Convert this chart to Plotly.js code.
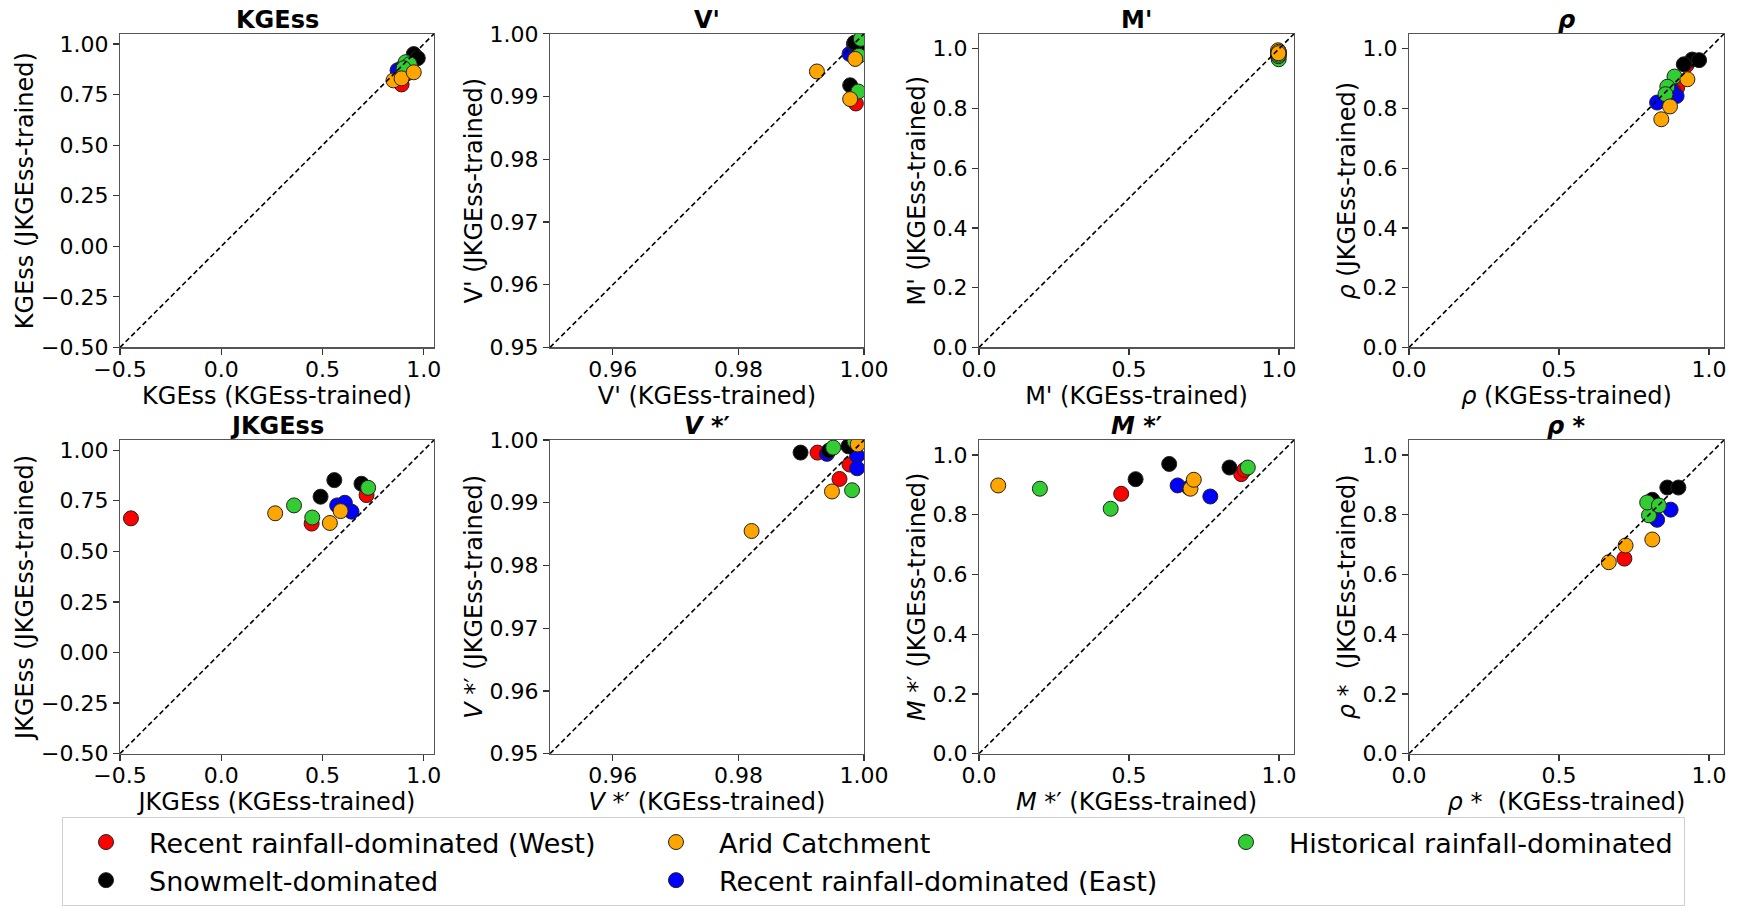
<!DOCTYPE html>
<html>
<head>
<meta charset="utf-8">
<script src="https://cdn.plot.ly/plotly-3.0.1.min.js"></script>
<style>
  html, body { margin: 0; padding: 0; background: #ffffff; }
  #chart { width: 1741px; height: 906px; }
</style>
</head>
<body>
<div id="chart"></div>
<script>
// Catchment groups (legend order) and their colours
const groupNames = [
  "Recent rainfall-dominated (West)",
  "Arid Catchment",
  "Historical rainfall-dominated",
  "Snowmelt-dominated",
  "Recent rainfall-dominated (East)"
];
const groupColors = ["#ff0000", "#ffa500", "#32cd32", "#000000", "#0000ff"];

// Group index of each of the 15 catchments
const catchmentGroup = [0, 0, 0, 1, 1, 1, 2, 2, 2, 3, 3, 3, 4, 4, 4];

// KGEss
const kgessKGEssTrained  = [0.89, 0.91, 0.93, 0.85, 0.89, 0.95, 0.91, 0.93, 0.90, 0.95, 0.97, 0.93, 0.87, 0.89, 0.92];
const kgessJKGEssTrained = [0.80, 0.85, 0.88, 0.82, 0.83, 0.86, 0.91, 0.90, 0.88, 0.95, 0.93, 0.89, 0.87, 0.88, 0.90];

// V'
const vKGEssTrained  = [0.9987, 0.9993, 0.9990, 0.9925, 0.9978, 0.9986, 0.9992, 0.9995, 0.9991, 0.9978, 0.9990, 0.9985, 0.9977, 0.9984, 0.9988];
const vJKGEssTrained = [0.9889, 0.9985, 0.9975, 0.9940, 0.9896, 0.9960, 0.9965, 0.9992, 0.9908, 0.9918, 0.9980, 0.9986, 0.9968, 0.9984, 0.9975];

// M'
const mKGEssTrained  = [0.998, 0.999, 0.997, 0.997, 0.999, 0.998, 0.999, 0.998, 0.999, 0.999, 0.998, 0.999, 0.998, 0.999, 0.997];
const mJKGEssTrained = [0.985, 0.990, 0.980, 0.995, 0.990, 0.985, 0.965, 0.975, 0.980, 0.980, 0.975, 0.990, 0.980, 0.985, 0.990];

// rho
const rhoKGEssTrained  = [0.894, 0.925, 0.880, 0.928, 0.870, 0.841, 0.885, 0.861, 0.855, 0.944, 0.967, 0.916, 0.892, 0.827, 0.875];
const rhoJKGEssTrained = [0.870, 0.945, 0.860, 0.898, 0.807, 0.764, 0.907, 0.873, 0.848, 0.964, 0.962, 0.948, 0.842, 0.820, 0.860];

// JKGEss
const jkgeKGEssTrained  = [-0.446, 0.446, 0.717, 0.266, 0.536, 0.589, 0.359, 0.449, 0.725, 0.490, 0.558, 0.692, 0.572, 0.610, 0.643];
const jkgeJKGEssTrained = [ 0.663, 0.637, 0.778, 0.688, 0.640, 0.699, 0.727, 0.667, 0.814, 0.770, 0.852, 0.834, 0.727, 0.740, 0.696];

// V*'
const vsKGEssTrained  = [0.9926, 0.9977, 0.9961, 0.9821, 0.9949, 0.9990, 0.9951, 0.9985, 0.9981, 0.9899, 0.9944, 0.9975, 0.9941, 0.9989, 0.9989];
const vsJKGEssTrained = [0.9980, 0.9961, 0.9938, 0.9855, 0.9918, 0.9993, 0.9988, 0.9998, 0.9920, 0.9980, 0.9983, 0.9990, 0.9978, 0.9975, 0.9955];

// M*'
const msKGEssTrained  = [0.474, 0.874, 0.885, 0.064, 0.705, 0.716, 0.203, 0.439, 0.896, 0.522, 0.634, 0.835, 0.662, 0.771, 0.700];
const msJKGEssTrained = [0.870, 0.936, 0.950, 0.898, 0.887, 0.917, 0.887, 0.820, 0.958, 0.919, 0.970, 0.958, 0.898, 0.861, 0.890];

// rho*
const rhosKGEssTrained  = [0.718, 0.800, 0.830, 0.666, 0.722, 0.811, 0.800, 0.794, 0.833, 0.811, 0.861, 0.898, 0.827, 0.872, 0.805];
const rhosJKGEssTrained = [0.653, 0.840, 0.830, 0.641, 0.697, 0.717, 0.798, 0.841, 0.831, 0.850, 0.891, 0.891, 0.783, 0.817, 0.800];

// Panel titles and axis labels
const panelTitles = ["<b>KGEss</b>", "<b>V'</b>", "<b>M'</b>", "<b><i>ρ</i></b>",
                     "<b>JKGEss</b>", "<b><i>V</i> *′</b>", "<b><i>M</i> *′</b>", "<b><i>ρ</i> *</b>"];
const xLabels = ["KGEss (KGEss-trained)", "V' (KGEss-trained)", "M' (KGEss-trained)", "<i>ρ</i> (KGEss-trained)",
                 "JKGEss (KGEss-trained)", "<i>V</i> *′ (KGEss-trained)", "<i>M</i> *′ (KGEss-trained)", "<i>ρ</i> *  (KGEss-trained)"];
const yLabels = ["KGEss (JKGEss-trained)", "V' (JKGEss-trained)", "M' (JKGEss-trained)", "<i>ρ</i> (JKGEss-trained)",
                 "JKGEss (JKGEss-trained)", "<i>V</i> *′ (JKGEss-trained)", "<i>M</i> *′ (JKGEss-trained)", "<i>ρ</i> *  (JKGEss-trained)"];

const panelX = [kgessKGEssTrained, vKGEssTrained, mKGEssTrained, rhoKGEssTrained,
                jkgeKGEssTrained, vsKGEssTrained, msKGEssTrained, rhosKGEssTrained];
const panelY = [kgessJKGEssTrained, vJKGEssTrained, mJKGEssTrained, rhoJKGEssTrained,
                jkgeJKGEssTrained, vsJKGEssTrained, msJKGEssTrained, rhosJKGEssTrained];

// Axis extents and tick settings per panel kind
const scaleKGE = { range: [-0.5, 1.05], xTick0: -0.5, xDtick: 0.5, xFmt: ".1f", yTick0: -0.5, yDtick: 0.25, yFmt: ".2f" };
const scaleV   = { range: [0.95, 1.0],  xTick0: 0.96, xDtick: 0.02, xFmt: ".2f", yTick0: 0.95, yDtick: 0.01, yFmt: ".2f" };
const scaleUnit= { range: [0.0, 1.05],  xTick0: 0.0,  xDtick: 0.5,  xFmt: ".1f", yTick0: 0.0,  yDtick: 0.2,  yFmt: ".1f" };
const panelScales = [scaleKGE, scaleV, scaleUnit, scaleUnit, scaleKGE, scaleV, scaleUnit, scaleUnit];

// Page geometry (pixels)
const W = 1741, H = 906;
const colPx = [[120, 434], [550, 864], [979, 1294], [1409, 1724]];
const rowPx = [[34, 349], [442, 757]];
const FONT = "DejaVu Sans, sans-serif";

// Draw order: later groups sit on top
const drawOrder = [0, 4, 3, 2, 1];

const traces = [];
const shapes = [];
const annotations = [];
const layout = {
  width: W, height: H,
  margin: { l: 0, r: 0, t: 0, b: 0 },
  paper_bgcolor: "#ffffff",
  plot_bgcolor: "#ffffff",
  font: { family: FONT, color: "#000000", size: 22 },
  showlegend: true,
  legend: {
    orientation: "h",
    x: 62 / W, xanchor: "left",
    y: 1 - 821 / H, yanchor: "top",
    font: { size: 27, family: FONT },
    bgcolor: "#ffffff",
    bordercolor: "#d0d0d0",
    borderwidth: 1,
    itemwidth: 76,
    entrywidth: 479,
    itemsizing: "trace",
    traceorder: "normal"
  },
  hovermode: false
};

for (let i = 0; i < 8; i++) {
  const suffix = i === 0 ? "" : String(i + 1);
  const col = colPx[i % 4];
  const row = rowPx[Math.floor(i / 4)];
  const sc = panelScales[i];

  const axisCommon = {
    showline: true, mirror: true, linecolor: "#555555", linewidth: 1.2,
    ticks: "outside", ticklen: 6, tickwidth: 1.2, tickcolor: "#333333",
    showgrid: false, zeroline: false, fixedrange: true, automargin: false,
    tickfont: { size: 22, family: FONT, color: "#000000" },
    range: sc.range.slice()
  };

  layout["xaxis" + suffix] = Object.assign({}, axisCommon, {
    domain: [col[0] / W, col[1] / W],
    anchor: "y" + suffix,
    tickmode: "linear", tick0: sc.xTick0, dtick: sc.xDtick, tickformat: sc.xFmt,
    ticklabelstandoff: -4,
    title: { text: xLabels[i], font: { size: 24, family: FONT }, standoff: 4 }
  });
  layout["yaxis" + suffix] = Object.assign({}, axisCommon, {
    domain: [1 - row[1] / H, 1 - row[0] / H],
    anchor: "x" + suffix,
    tickmode: "linear", tick0: sc.yTick0, dtick: sc.yDtick, tickformat: sc.yFmt,
    title: { text: yLabels[i], font: { size: 24, family: FONT }, standoff: 0 }
  });

  drawOrder.forEach(function (g) {
    const idx = [];
    catchmentGroup.forEach(function (v, k) { if (v === g) idx.push(k); });
    const tr = {
      type: "scatter", mode: "markers",
      x: idx.map(function (k) { return panelX[i][k]; }),
      y: idx.map(function (k) { return panelY[i][k]; }),
      xaxis: "x" + suffix, yaxis: "y" + suffix,
      name: groupNames[g], legendgroup: "grp" + g, legendrank: g + 1,
      showlegend: i === 0,
      cliponaxis: true,
      marker: { size: 15, color: groupColors[g], line: { color: "#222222", width: 1 } },
      hoverinfo: "skip"
    };
    // last column of the legend needs only its own text width
    if (g === 2) tr.legendwidth = 390;
    traces.push(tr);
  });

  // 1:1 reference line across the axis extent
  shapes.push({
    type: "line", layer: "above",
    xref: "x" + suffix, yref: "y" + suffix,
    x0: sc.range[0], y0: sc.range[0], x1: sc.range[1], y1: sc.range[1],
    line: { color: "#000000", width: 1.6, dash: "5px,3px" }
  });

  annotations.push({
    text: panelTitles[i], showarrow: false,
    xref: "paper", yref: "paper",
    x: (col[0] + col[1]) / 2 / W, y: 1 - row[0] / H,
    xanchor: "center", yanchor: "bottom", yshift: -2,
    font: { size: 24, family: FONT, color: "#000000" }
  });
}

layout.shapes = shapes;
layout.annotations = annotations;

Plotly.newPlot("chart", traces, layout, { staticPlot: true, displayModeBar: false });
</script>
</body>
</html>
